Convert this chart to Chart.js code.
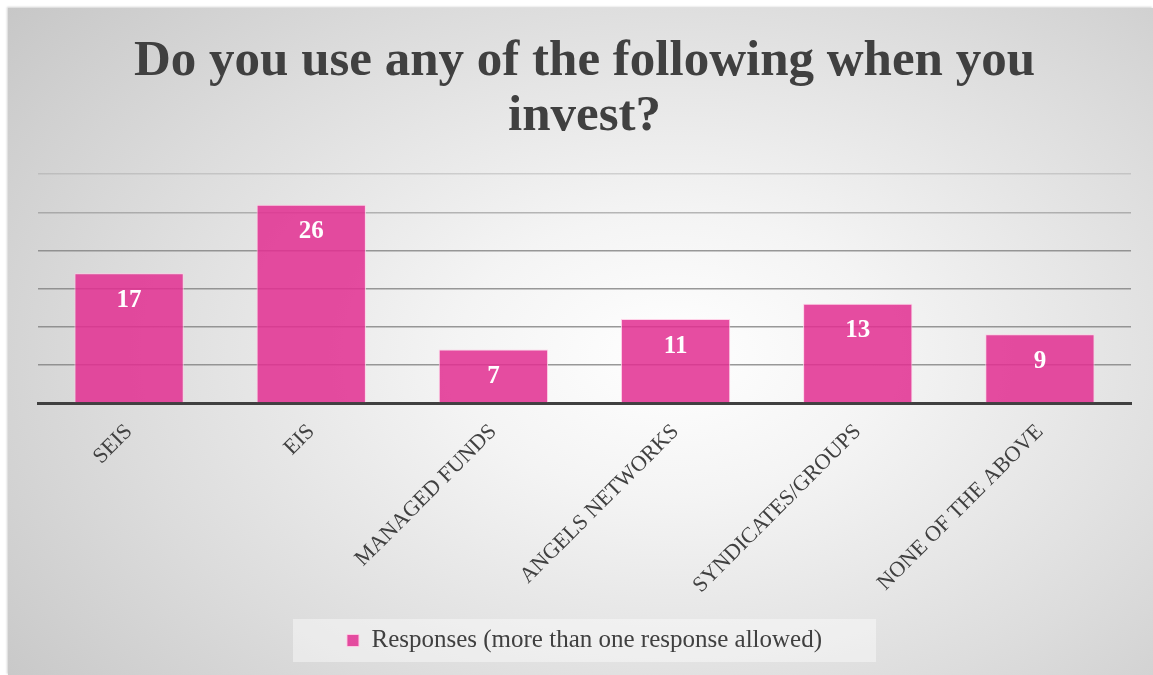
<!DOCTYPE html>
<html>
<head>
<meta charset="utf-8">
<script src="https://cdn.jsdelivr.net/npm/chart.js@4/dist/chart.umd.min.js"></script>
<style>
    html, body { margin: 0; padding: 0; background: #fff; }
    .frame {
        position: absolute;
        left: 8px; top: 8px;
        width: 1145px; height: 667px;
        background: radial-gradient(ellipse 75% 85% at 58% 52%, #ffffff 0%, #f4f4f4 25%, #dcdcdc 65%, #c6c6c6 100%);
        box-shadow: -1px -1px 2px rgba(0,0,0,0.18);
    }
    canvas { display: block; }
</style>
</head>
<body>
<div class="frame"><canvas id="chart" width="1145" height="667"></canvas></div>
<script>
// Datos
const categories = ['SEIS', 'EIS', 'MANAGED FUNDS', 'ANGELS NETWORKS', 'SYNDICATES/GROUPS', 'NONE OF THE ABOVE'];
const responses = [17, 26, 7, 11, 13, 9];
const seriesName = 'Responses (more than one response allowed)';
const titleLines = ['Do you use any of the following when you', 'invest?'];

const SERIF = '"Liberation Serif", "DejaVu Serif", serif';
const INK = '#404040';
const PINK = 'rgba(226, 48, 146, 0.86)';

// Etiquetas blancas dentro de cada barra
const barLabels = {
    id: 'barLabels',
    afterDatasetsDraw(chart) {
        const { ctx } = chart;
        const meta = chart.getDatasetMeta(0);
        ctx.save();
        ctx.fillStyle = '#ffffff';
        ctx.font = 'bold 25px ' + SERIF;
        ctx.textAlign = 'center';
        ctx.textBaseline = 'middle';
        meta.data.forEach((bar, i) => {
            ctx.fillText(String(responses[i]), bar.x, bar.y + 27);
        });
        ctx.restore();
    }
};

// Fondo claro detrás de la leyenda
const legendPanel = {
    id: 'legendPanel',
    beforeDraw(chart) {
        const lg = chart.legend;
        if (!lg || !lg.legendHitBoxes || !lg.legendHitBoxes.length) return;
        const hb = lg.legendHitBoxes[0];
        const cx = hb.left + hb.width / 2;
        const cy = hb.top + hb.height / 2;
        const w = hb.width + 108;
        const h = 43;
        const { ctx } = chart;
        ctx.save();
        ctx.fillStyle = 'rgba(255,255,255,0.42)';
        ctx.fillRect(cx - w / 2, cy - h / 2, w, h);
        ctx.restore();
    }
};

// Rejilla más tenue hacia arriba
const gridColor = (c) => {
    const v = c.tick ? c.tick.value : 0;
    if (v >= 30) return 'rgba(150,150,150,0.35)';
    if (v >= 25) return 'rgba(140,140,140,0.6)';
    return 'rgba(128,128,128,0.8)';
};

new Chart(document.getElementById('chart'), {
    type: 'bar',
    data: {
        labels: categories,
        datasets: [{
            label: seriesName,
            data: responses,
            backgroundColor: PINK,
            borderColor: 'rgba(255, 205, 230, 0.9)',
            borderWidth: 1,
            borderSkipped: 'bottom',
            categoryPercentage: 1,
            barPercentage: 0.6
        }]
    },
    options: {
        responsive: false,
        animation: false,
        layout: { padding: { left: 30, right: 22, top: 0, bottom: 12 } },
        scales: {
            x: {
                grid: { display: false },
                border: { display: true, color: INK, width: 3 },
                ticks: {
                    color: INK,
                    font: { family: SERIF, size: 22 },
                    minRotation: 45,
                    maxRotation: 45,
                    padding: 8
                },
                afterFit(scale) { scale.height = 215; }
            },
            y: {
                min: 0,
                max: 30,
                ticks: { display: false, stepSize: 5 },
                border: { display: false },
                grid: { color: gridColor, lineWidth: 1.5, drawTicks: false }
            }
        },
        plugins: {
            title: {
                display: true,
                text: titleLines,
                color: INK,
                font: { family: SERIF, size: 51, weight: 'bold', lineHeight: 1.08 },
                padding: { top: 26, bottom: 30 }
            },
            legend: {
                position: 'bottom',
                labels: {
                    color: INK,
                    font: { family: SERIF, size: 25 },
                    boxWidth: 12,
                    boxHeight: 12,
                    padding: 10
                }
            },
            tooltip: { enabled: false }
        }
    },
    plugins: [barLabels, legendPanel]
});
</script>
</body>
</html>
